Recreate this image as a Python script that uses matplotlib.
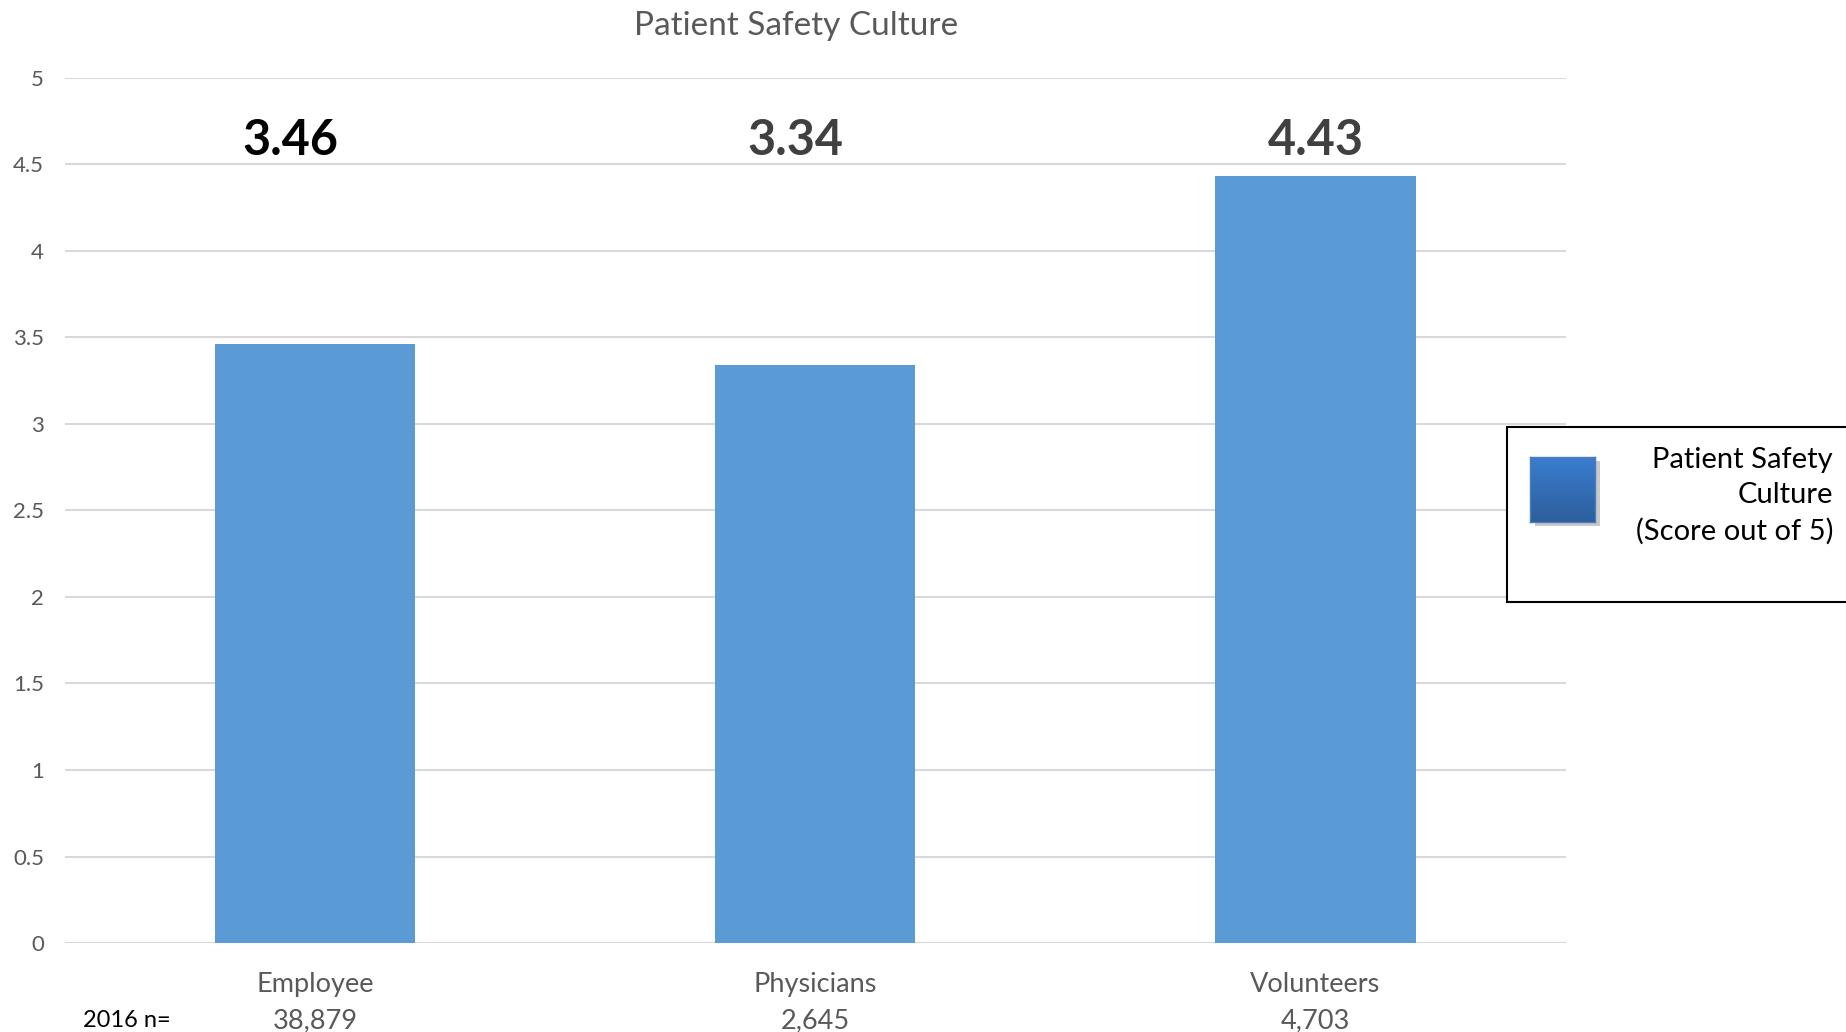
import numpy as np
import matplotlib.pyplot as plt
from matplotlib.patches import Rectangle
from matplotlib.colors import LinearSegmentedColormap

plt.rcParams['font.family'] = ['Lato', 'DejaVu Sans']

categories = ['Employee', 'Physicians', 'Volunteers']
counts = ['38,879', '2,645', '4,703']
scores = [3.46, 3.34, 4.43]
yticks = [0, 0.5, 1, 1.5, 2, 2.5, 3, 3.5, 4, 4.5, 5]
ytick_labels = ['0', '0.5', '1', '1.5', '2', '2.5', '3', '3.5', '4', '4.5', '5']
label_colors = ['#000000', '#404040', '#404040']

fig = plt.figure(figsize=(18.46, 10.32), dpi=100)
ax = fig.add_axes([0.0351, 0.0862, 0.813, 0.8385])

x = np.arange(len(categories))
ax.bar(x, scores, width=0.4, color='#5b9bd5', zorder=2)

ax.set_xlim(-0.5, 2.5)
ax.set_ylim(0, 5)
ax.set_yticks(yticks)
ax.set_yticklabels(ytick_labels, fontsize=16, color='#595959')
ax.grid(axis='y', color='#d9d9d9', linewidth=1.5, zorder=0)
ax.set_axisbelow(True)
for s in ax.spines.values():
    s.set_visible(False)
ax.tick_params(axis='both', length=0)
ax.tick_params(axis='y', pad=15)
ax.set_xticks(x)
ax.set_xticklabels([])
ax.axhline(0, color='#d9d9d9', linewidth=1.5, zorder=1)

# value labels above the plot
offsets = [-0.05, -0.04, 0.0]
for i, v in enumerate(scores):
    ax.text(x[i] + offsets[i], 4.64, f'{v:.2f}', ha='center', va='center',
            fontsize=35, fontweight='bold', color=label_colors[i])

# category names and counts
for i, (c, n) in enumerate(zip(categories, counts)):
    xf = 0.0351 + 0.813 * (x[i] + 0.5) / 3
    fig.text(xf, 0.0463, c, ha='center', va='center', fontsize=19.5, color='#595959')
    fig.text(xf, 0.0110, n, ha='center', va='center', fontsize=19.5, color='#595959')
fig.text(0.0686, 0.0110, '2016 n=', ha='center', va='center', fontsize=17, color='#000000')

fig.text(0.431, 0.975, 'Patient Safety Culture', ha='center', va='center',
         fontsize=24, color='#595959')

# legend drawn by hand
fig.patches.append(Rectangle((0.8163, 0.4171), 0.2, 0.1688, transform=fig.transFigure,
                             facecolor='white', edgecolor='black', linewidth=1.5, zorder=1))
fig.patches.append(Rectangle((0.8315, 0.4906), 0.035, 0.0628, transform=fig.transFigure,
                             facecolor='#a6a6a6', edgecolor='none', alpha=0.6, zorder=2))
lax = fig.add_axes([0.829, 0.4946, 0.035, 0.0628])
lax.set_zorder(5)
grad = np.linspace(0, 1, 100).reshape(-1, 1)
cmap = LinearSegmentedColormap.from_list('g', ['#3b7dd0', '#2c5f9c'])
lax.imshow(grad, aspect='auto', cmap=cmap)
lax.set_xticks([])
lax.set_yticks([])
for s in lax.spines.values():
    s.set_color('#4a7ebb')
    s.set_linewidth(1)
fig.text(0.993, 0.5197, 'Patient Safety\nCulture\n(Score out of 5)', ha='right', va='center',
         fontsize=21, color='#000000', linespacing=1.45, zorder=6)

fig.savefig('out.png', dpi=100)
